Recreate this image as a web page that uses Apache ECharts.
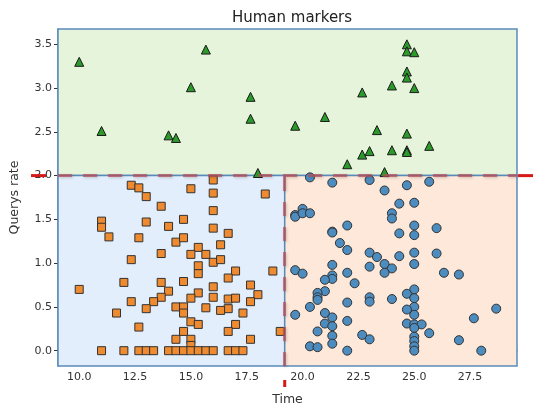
<!DOCTYPE html>
<html><head><meta charset="utf-8">
<script src="https://cdn.jsdelivr.net/npm/echarts@6/dist/echarts.min.js"></script>
<style>html,body{margin:0;padding:0;background:#fff}#c{width:533px;height:411px}</style>
</head><body><div id="c"></div>
<script>
// ---- data ----
const xRange = [9.05, 29.6];
const yRange = [-0.175, 3.675];
const xThreshold = 19.2;
const yThreshold = 2.0;
const xTicks = [10, 12.5, 15, 17.5, 20, 22.5, 25, 27.5];
const yTicks = [0, 0.5, 1, 1.5, 2, 2.5, 3, 3.5];

const triangles = [
  [10.0,3.30],[11.0,2.51],[14.0,2.46],[14.33,2.43],[15.0,3.01],[15.67,3.44],
  [17.67,2.90],[17.67,2.65],[18.0,2.03],[19.67,2.57],[21.0,2.67],[22.0,2.13],
  [22.67,2.95],[22.67,2.24],[23.0,2.28],[23.33,2.52],[23.67,2.04],[24.0,3.03],
  [24.0,2.29],[24.67,3.50],[24.67,3.42],[25.0,3.41],[24.67,3.19],[24.67,3.12],
  [25.0,3.00],[24.67,2.48],[24.67,2.29],[24.67,2.27],[25.67,2.34]
];
const squares = [
  [12.33,1.89],[12.67,1.86],[13.0,1.76],[15.0,1.85],[16.0,1.95],[16.0,1.80],
  [16.0,1.60],[16.0,1.40],[18.33,1.79],[13.67,1.65],[11.0,1.48],[11.0,1.41],
  [13.0,1.47],[14.0,1.42],[14.67,1.50],[11.33,1.30],[12.67,1.29],[14.33,1.24],
  [14.67,1.29],[16.67,1.34],[16.33,1.21],[13.67,1.11],[15.33,1.18],[15.0,1.10],
  [15.67,1.10],[16.0,1.01],[16.33,1.04],[12.33,1.04],[15.33,0.97],[15.33,0.88],
  [17.0,0.91],[18.67,0.91],[16.67,0.83],[12.0,0.78],[13.67,0.78],[14.67,0.79],
  [16.0,0.73],[17.67,0.75],[10.0,0.70],[14.0,0.68],[15.33,0.66],[18.0,0.64],
  [13.67,0.61],[15.0,0.60],[16.0,0.61],[16.67,0.59],[17.0,0.60],[12.33,0.56],
  [13.33,0.56],[17.67,0.56],[14.33,0.50],[14.67,0.50],[13.0,0.48],[15.67,0.49],
  [16.67,0.48],[16.33,0.46],[14.67,0.43],[11.67,0.43],[17.33,0.43],[15.0,0.33],
  [15.33,0.30],[17.0,0.30],[12.67,0.27],[16.67,0.22],[14.67,0.22],[19.0,0.22],
  [14.33,0.13],[15.0,0.13],[17.67,0.13],[15.0,0.06],
  [11.0,0.0],[12.0,0.0],[12.67,0.0],[13.0,0.0],[13.33,0.0],[14.0,0.0],[14.33,0.0],
  [14.67,0.0],[15.0,0.0],[15.33,0.0],[15.67,0.0],[16.0,0.0],[16.67,0.0],[17.0,0.0],[17.33,0.0]
];
const circles = [
  [20.33,1.98],[21.33,1.92],[23.0,1.95],[25.67,1.93],[24.67,1.89],[23.67,1.83],
  [24.33,1.68],[25.0,1.69],[19.67,1.55],[19.67,1.53],[20.0,1.62],[20.0,1.57],
  [20.33,1.57],[24.0,1.57],[24.0,1.51],[22.0,1.43],[25.0,1.43],[26.0,1.40],
  [21.33,1.36],[21.33,1.35],[24.33,1.34],[25.0,1.32],[21.67,1.23],[22.0,1.15],
  [23.0,1.12],[25.0,1.12],[26.0,1.11],[23.33,1.07],[24.33,1.08],[23.67,0.99],
  [25.0,0.99],[23.0,0.96],[21.33,0.98],[24.0,0.94],[23.67,0.89],[19.67,0.92],
  [20.0,0.88],[21.33,0.86],[21.33,0.82],[22.0,0.89],[26.33,0.89],[27.0,0.87],
  [21.0,0.81],[22.33,0.77],[25.0,0.70],[21.0,0.68],[20.67,0.66],[20.67,0.61],
  [20.67,0.58],[24.67,0.65],[25.0,0.60],[23.0,0.61],[23.0,0.56],[24.0,0.59],
  [22.0,0.55],[20.33,0.50],[25.0,0.50],[24.67,0.47],[28.67,0.48],[19.67,0.41],
  [21.0,0.43],[25.0,0.41],[21.33,0.38],[27.67,0.37],[22.0,0.34],[21.0,0.31],
  [24.67,0.31],[25.0,0.30],[25.33,0.30],[21.33,0.28],[25.0,0.26],[20.67,0.22],
  [25.67,0.20],[21.33,0.17],[22.67,0.18],[23.0,0.13],[25.0,0.16],[25.0,0.11],
  [27.0,0.12],[21.33,0.08],[20.33,0.05],[20.67,0.04],[25.0,0.05],[25.0,0.0],
  [22.0,0.0],[28.0,0.0]
];

// ---- chart ----
const chart = echarts.init(document.getElementById('c'), null, {renderer: 'canvas'});
const font = 'DejaVu Sans';
const edge = '#5a8ab8';
const dashColor = 'rgba(188,78,88,0.7)';

function axisCommon(ticks) {
  return {
    type: 'value',
    splitLine: {show: false},
    axisLine: {show: true, lineStyle: {color: edge, width: 1.5}},
    axisTick: {show: true, customValues: ticks, length: 4, lineStyle: {color: '#333', width: 1}},
    axisLabel: {customValues: ticks, color: '#333', fontSize: 11, fontFamily: font, margin: 6,
      formatter: v => Number(v).toFixed(1)}
  };
}

chart.setOption({
  animation: false,
  backgroundColor: '#fff',
  title: {text: 'Human markers', left: 287, textAlign: 'center', top: 6,
    textStyle: {fontFamily: font, fontSize: 15, fontWeight: 'normal', color: '#222'}},
  grid: {left: 58, right: 16, top: 29, bottom: 39},
  xAxis: Object.assign(axisCommon(xTicks), {
    min: xRange[0], max: xRange[1], name: 'Time', nameLocation: 'middle', nameGap: 27,
    nameTextStyle: {fontFamily: font, fontSize: 12.5, color: '#333'}
  }),
  yAxis: Object.assign(axisCommon(yTicks), {
    min: yRange[0], max: yRange[1], name: 'Querys rate', nameLocation: 'middle', nameGap: 37,
    nameTextStyle: {fontFamily: font, fontSize: 12.5, color: '#333'}
  }),
  series: [
    {
      type: 'scatter', name: 'regions', data: [], silent: true, z: 1,
      markArea: {
        silent: true,
        data: [
          [{coord: [xRange[0], yThreshold], itemStyle: {color: '#e6f4dc', borderColor: edge, borderWidth: 1.5}},
           {coord: [xRange[1], yRange[1]]}],
          [{coord: [xRange[0], yRange[0]], itemStyle: {color: '#e2eefb', borderColor: edge, borderWidth: 1.5}},
           {coord: [xThreshold, yThreshold]}],
          [{coord: [xThreshold, yRange[0]], itemStyle: {color: '#fde8d9', borderColor: edge, borderWidth: 1.5}},
           {coord: [xRange[1], yThreshold]}]
        ]
      }
    },
    {
      type: 'scatter', name: 'squares', data: squares, symbol: 'rect', symbolSize: 8, z: 3,
      itemStyle: {color: '#ee8a2f', borderColor: '#333', borderWidth: 1, opacity: 1}
    },
    {
      type: 'scatter', name: 'circles', data: circles, symbol: 'circle', symbolSize: 9, z: 3,
      itemStyle: {color: '#4c8cbf', borderColor: '#333', borderWidth: 1, opacity: 1}
    },
    {
      type: 'scatter', name: 'triangles', data: triangles, symbol: 'triangle', symbolSize: 9, z: 3,
      itemStyle: {color: '#2b9a2b', borderColor: '#1a1a1a', borderWidth: 1, opacity: 1}
    },
    {
      type: 'scatter', name: 'thresholds', data: [], silent: true, z: 4,
      markLine: {
        silent: true, symbol: 'none', label: {show: false},
        lineStyle: {color: dashColor, width: 3, type: [14, 11],
          shadowBlur: 3, shadowColor: 'rgba(0,0,0,0.25)', shadowOffsetX: 1, shadowOffsetY: 1},
        data: [
          [{coord: [xRange[0], yThreshold]}, {coord: [xRange[1], yThreshold]}],
          [{coord: [xThreshold, yRange[0]]}, {coord: [xThreshold, yThreshold]}]
        ]
      }
    }
  ]
});

// red stubs of the threshold lines outside the plot frame
const pL = chart.convertToPixel({gridIndex: 0}, [xRange[0], yThreshold]);
const pR = chart.convertToPixel({gridIndex: 0}, [xRange[1], yThreshold]);
const pB = chart.convertToPixel({gridIndex: 0}, [xThreshold, yRange[0]]);
const red = '#d61a1a';
chart.setOption({
  graphic: [
    {type: 'line', shape: {x1: pL[0] - 27, y1: pL[1], x2: pL[0] - 12, y2: pL[1]},
     style: {stroke: red, lineWidth: 3}, z: 100},
    {type: 'line', shape: {x1: pR[0] + 1, y1: pR[1], x2: pR[0] + 17, y2: pR[1]},
     style: {stroke: red, lineWidth: 3}, z: 100},
    {type: 'line', shape: {x1: pB[0], y1: pB[1] + 14, x2: pB[0], y2: pB[1] + 21},
     style: {stroke: red, lineWidth: 3}, z: 100}
  ]
});
</script></body></html>
